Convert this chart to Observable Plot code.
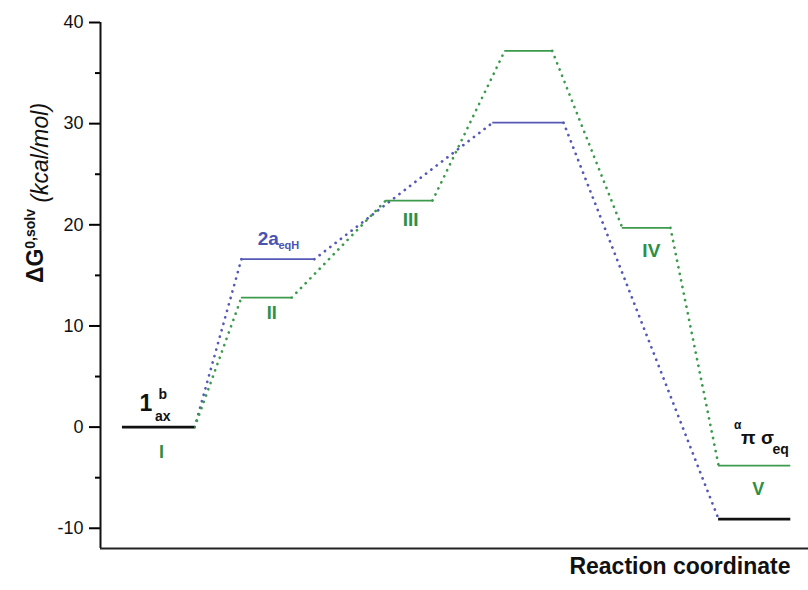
<!DOCTYPE html>
<html><head><meta charset="utf-8">
<script src="https://cdn.jsdelivr.net/npm/d3@7"></script>
<script src="https://cdn.jsdelivr.net/npm/@observablehq/plot@0.6"></script>
<style>body{margin:0;background:#fff;font-family:"Liberation Sans",Arial,sans-serif;}</style>
</head><body><div id="chart"></div>
<script>
// Energy levels (reaction coordinate in arbitrary units 0-100, ΔG in kcal/mol)
const levelNames  = ["1ax", "2aeqH", "II", "III", "TS-blue", "TS-green", "IV", "V", "end"];
const levelStart  = [3.1, 19.9, 19.9, 40.3, 55.4, 57.1, 73.7, 87.3, 87.3];
const levelEnd    = [13.3, 30.2, 27.0, 46.9, 65.4, 63.8, 80.5, 97.5, 97.5];
const levelEnergy = [0, 16.6, 12.8, 22.4, 30.1, 37.2, 19.7, -3.8, -9.1];
const levelSeries = ["ref", "blue", "green", "green", "blue", "green", "green", "green", "ref"];
// Pathways (dotted connectors)
const bluePath  = ["1ax", "2aeqH", "TS-blue", "end"];
const greenPath = ["1ax", "II", "III", "TS-green", "IV", "V"];
// Axis ticks
const majorTicks = [-10, 0, 10, 20, 30, 40];
const minorTicks = [-5, 5, 15, 25, 35];
// Annotation labels (position in data units)
const labelText   = ["1", "b", "ax", "I", "2a", "eqH", "II", "III", "IV", "α", "π σ", "eq", "V"];
const labelX      = [6.4, 8.8, 8.8, 8.6, 23.7, 26.6, 24.2, 43.8, 77.8, 90.0, 92.8, 94.9, 92.9];
const labelEnergy = [1.64, 2.8, 0.65, -3.1, 18.05, 17.56, 10.64, 19.93, 16.77, -0.14, -1.62, -2.7, -6.76];

const colors = {ref: "#111111", blue: "#5459b6", green: "#3c9a4d"};
const labelColor = {ref: "#111111", blue: "#4a52b2", green: "#2f8f44"};

const levels = levelNames.map((n, i) => ({name: n, x1: levelStart[i], x2: levelEnd[i], g: levelEnergy[i], s: levelSeries[i]}));
const byName = Object.fromEntries(levels.map(d => [d.name, d]));
function connectors(path, s) {
  const out = [];
  for (let i = 0; i < path.length - 1; i++) {
    const a = byName[path[i]], b = byName[path[i + 1]];
    out.push({x1: a.x2, y1: a.g, x2: b.x1, y2: b.g, s});
  }
  return out;
}
const links = [...connectors(bluePath, "blue"), ...connectors(greenPath, "green")];
const labels = labelText.map((t, i) => ({t, x: labelX[i], y: labelEnergy[i]}));

const font = "Liberation Sans, Arial, sans-serif";
function lab(i, size, color, anchor = "middle") {
  return Plot.text([labels[i]], {x: "x", y: "y", text: "t", fontSize: size, fill: color,
    fontWeight: "bold", textAnchor: anchor, lineAnchor: "bottom", fontFamily: font});
}

const chart = Plot.plot({
  width: 808, height: 590,
  marginLeft: 100, marginRight: 0, marginTop: 22, marginBottom: 42,
  style: {fontFamily: font, background: "#fff"},
  x: {domain: [0, 100], axis: null},
  y: {domain: [-12, 40], axis: null},
  marks: [
    Plot.axisY({ticks: majorTicks, tickSize: 11, tickPadding: 6, fontSize: 18, strokeWidth: 2,
      tickFormat: d => (d < 0 ? "-" : "") + Math.abs(d), label: null, fill: "#111"}),
    Plot.axisY({ticks: minorTicks, tickSize: 5, strokeWidth: 2, tickFormat: () => "", label: null}),
    Plot.ruleX([0], {y1: -12, y2: 40, strokeWidth: 2, stroke: "#111"}),
    Plot.ruleY([-12], {strokeWidth: 2.2, stroke: "#222"}),
    Plot.link(links, {x1: "x1", y1: "y1", x2: "x2", y2: "y2", stroke: d => colors[d.s],
      strokeWidth: 2.7, strokeDasharray: "0.1 6.6", strokeLinecap: "round"}),
    Plot.ruleY(levels.filter(d => d.s !== "ref"), {y: "g", x1: "x1", x2: "x2", stroke: d => colors[d.s], strokeWidth: 1.8}),
    Plot.ruleY(levels.filter(d => d.s === "ref"), {y: "g", x1: "x1", x2: "x2", stroke: "#111", strokeWidth: 2.8}),
    lab(0, 23, labelColor.ref), lab(1, 14, labelColor.ref), lab(2, 14, labelColor.ref),
    lab(3, 18, labelColor.green),
    lab(4, 19, labelColor.blue), lab(5, 11, labelColor.blue),
    lab(6, 18, labelColor.green), lab(7, 19, labelColor.green), lab(8, 19, labelColor.green),
    lab(9, 12, labelColor.ref), lab(10, 19, labelColor.ref), lab(11, 14, labelColor.ref, "start"),
    lab(12, 18, labelColor.green),
    Plot.text(["Reaction coordinate"], {frameAnchor: "bottom-right", dx: -18, dy: 25, textAnchor: "end",
      lineAnchor: "bottom", fontSize: 23, fontWeight: "bold", fill: "#111", fontFamily: font})
  ]
});

// Y axis title with superscript and italic part
const svg = d3.select(chart);
const yl = svg.append("text")
  .attr("transform", "translate(43,193) rotate(-90)")
  .attr("text-anchor", "middle")
  .attr("font-family", font)
  .attr("font-size", 23)
  .attr("fill", "#111");
yl.append("tspan").attr("font-weight", "bold").text("ΔG");
yl.append("tspan").attr("font-weight", "bold").attr("font-size", 14).attr("dy", "-0.6em").text("0,solv");
yl.append("tspan").attr("font-style", "italic").attr("dy", "0.6em").text(" (kcal/mol)");

document.getElementById("chart").append(chart);
</script>
</body></html>
